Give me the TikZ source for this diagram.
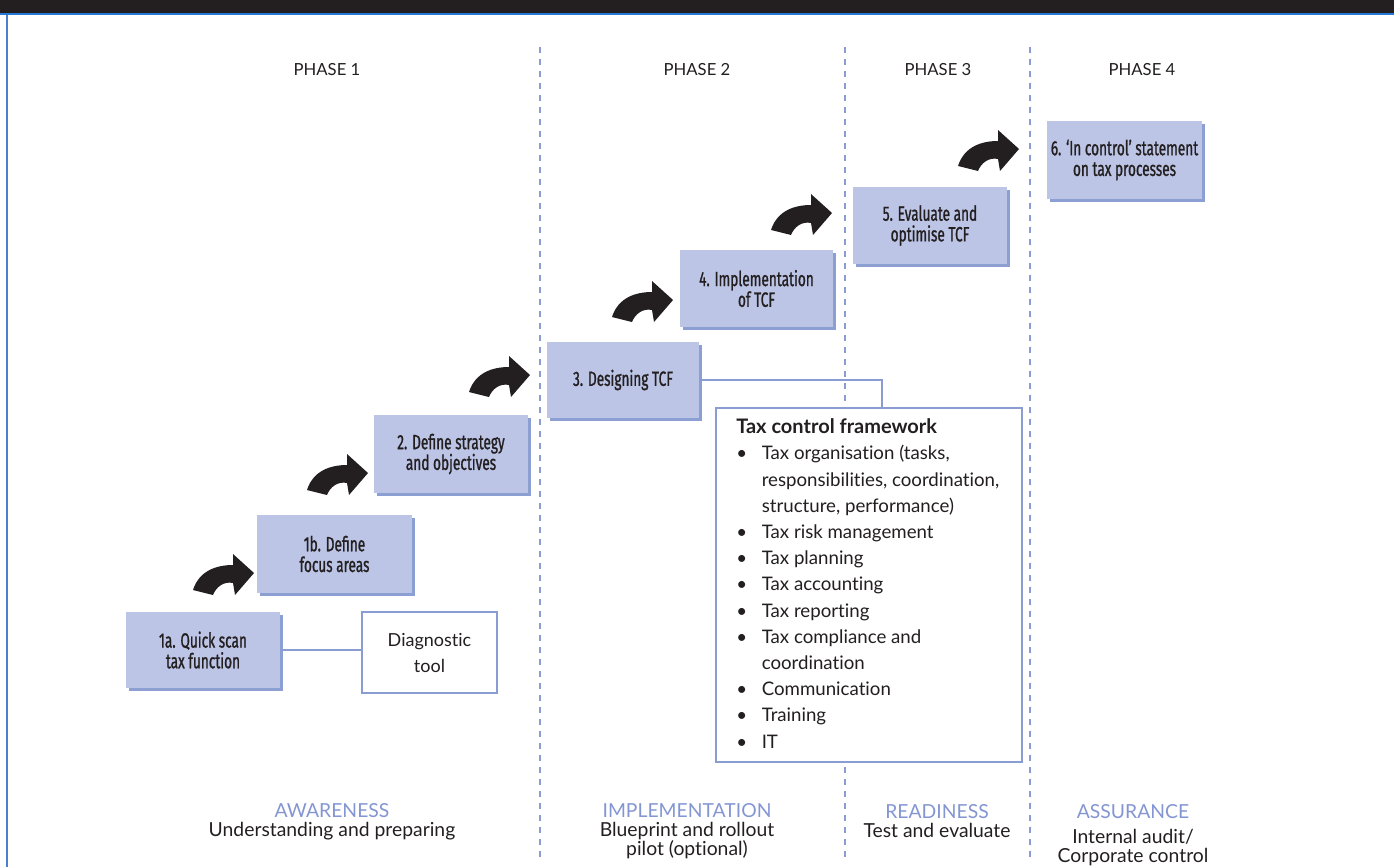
\documentclass[tikz,border=0pt]{standalone}
\usepackage{fontspec}
\setmainfont{Lato}[Ligatures=NoCommon]
\newfontfamily\condfont[FakeStretch=0.66,FakeBold=1]{Fira Sans}
\definecolor{boxfill}{HTML}{BCC5E5}
\definecolor{boxshade}{HTML}{8C9FD2}
\definecolor{rule}{HTML}{8A9DD3}
\definecolor{stage}{HTML}{8496D2}
\definecolor{bar}{HTML}{231F20}
\definecolor{barline}{HTML}{2479D8}
\definecolor{frame}{HTML}{4A80CC}
\definecolor{ink}{HTML}{231F20}

\tikzset{
  stepbox/.style={fill=boxfill, inner sep=0pt, outer sep=0pt, align=center,
    font=\condfont\fontsize{15.5}{15.5}\selectfont, text=ink},
  whitebox/.style={draw=rule, line width=1.5pt, fill=white, inner sep=0pt, outer sep=0pt},
  link/.style={draw=rule, line width=1.5pt},
  phaseline/.style={draw=rule, line width=2pt, dash pattern=on 4.5pt off 4.5pt},
  phasehead/.style={font=\fontsize{12.5}{15}\selectfont, text=ink},
  stagetext/.style={font=\fontsize{14.5}{14.25}\selectfont, text=ink, align=center, inner sep=0pt},
  pics/turnarrow/.style={code={
    \fill[ink] (0,0) -- (-21,-19) -- (-21,-8)
      .. controls (-38,-8) and (-55,-2) .. (-61,17) -- (-41,22)
      .. controls (-38,14) and (-30,8) .. (-21,10) -- (-19,22) -- cycle;}}
}

% step box with a darker offset shade behind it
\newcommand\stepat[6]{%
  \fill[boxshade] ({#2+3},{#3+3}) rectangle ({#4+3},{#5+3});
  \node[stepbox, minimum width={(#4-#2)*0.75pt}, minimum height={(#5-#3)*0.75pt}]
    (#1) at ({(#2+#4)/2},{(#3+#5)/2}) {#6};}

\begin{document}
\begin{tikzpicture}[x=0.75pt, y=-0.75pt]
\useasboundingbox (0,0) rectangle (1394,867);

% title bar and frame
\fill[bar] (0,0) rectangle (1394,14);
\draw[barline, line width=1.5pt] (0,14.5) -- (1394,14.5);
\draw[frame, line width=1pt] (7,15) -- (7,867);

% phase separators
\draw[phaseline] (540,47) -- (540,862);
\draw[phaseline] (845,47) -- (845,862);
\draw[phaseline] (1030,47) -- (1030,862);

% phase headings
\node[phasehead] (ph1) at (327,70) {PHASE 1};
\node[phasehead] (ph2) at (697,70) {PHASE 2};
\node[phasehead] (ph3) at (938,70) {PHASE 3};
\node[phasehead] (ph4) at (1142,70) {PHASE 4};

% joint where the framework box hangs from step 3
\coordinate (tcfjoin) at (882,408);

% steps
\stepat{s1a}{126}{612}{280}{688}{1a. Quick scan\\tax function}
\stepat{s1b}{257}{515}{412}{593}{1b. Define\\focus areas}
\stepat{s2}{374}{415}{528}{493}{2. Define strategy\\and objectives}
\stepat{s3}{547}{342}{699}{418}{3. Designing TCF}
\stepat{s4}{680}{250}{833}{327}{4. Implementation\\of TCF}
\stepat{s5}{853}{187}{1007}{264}{5. Evaluate and\\optimise TCF}
\stepat{s6}{1047}{121}{1202}{199}{6. ‘In control’ statement\\on tax processes}

% diagnostic tool
\node[whitebox, minimum width={135*0.75pt}, minimum height={81*0.75pt}, align=center,
  font=\fontsize{13.5}{19.5}\selectfont, text=ink] (diag) at (429.5,652.5) {Diagnostic\\tool};
\draw[link] (s1a.east) -- (s1a.east -| diag.west);

% tax control framework
\draw[link] (s3.east) -| (tcfjoin);
\node[whitebox, minimum width={306*0.75pt}, minimum height={354*0.75pt}] (tcf) at (869,585) {};
\node[anchor=north west, inner sep=0pt, text=ink, font=\fontsize{14}{19.65}\selectfont]
  (tcftext) at (736,415) {%
  \begin{tabular}{@{}l@{\hspace{11pt}}l@{}}
  \multicolumn{2}{@{}l@{}}{\bfseries\fontsize{15}{19.65}\selectfont Tax control framework}\\
  \textbullet & Tax organisation (tasks,\\
   & responsibilities, coordination,\\
   & structure, performance)\\
  \textbullet & Tax risk management\\
  \textbullet & Tax planning\\
  \textbullet & Tax accounting\\
  \textbullet & Tax reporting\\
  \textbullet & Tax compliance and\\
   & coordination\\
  \textbullet & Communication\\
  \textbullet & Training\\
  \textbullet & IT
  \end{tabular}};

% turning arrows between steps
\pic at (254,573) {turnarrow};
\pic at (368,473) {turnarrow};
\pic at (530,375) {turnarrow};
\pic at (673,300) {turnarrow};
\pic at (832,213) {turnarrow};
\pic at (1019,149) {turnarrow};

% stage captions
\node[stagetext] (aw) at (332,821.5) {\textcolor{stage}{AWARENESS}\\Understanding and preparing};
\node[stagetext] (im) at (687,831) {\textcolor{stage}{IMPLEMENTATION}\\Blueprint and rollout\\pilot (optional)};
\node[stagetext] (rd) at (937,821.5) {\textcolor{stage}{READINESS}\\Test and evaluate};
\node[stagetext, text=stage] (as) at (1133,812) {ASSURANCE};
\node[stagetext] (ast) at (1133,848) {Internal audit/\\Corporate control};
\end{tikzpicture}
\end{document}
